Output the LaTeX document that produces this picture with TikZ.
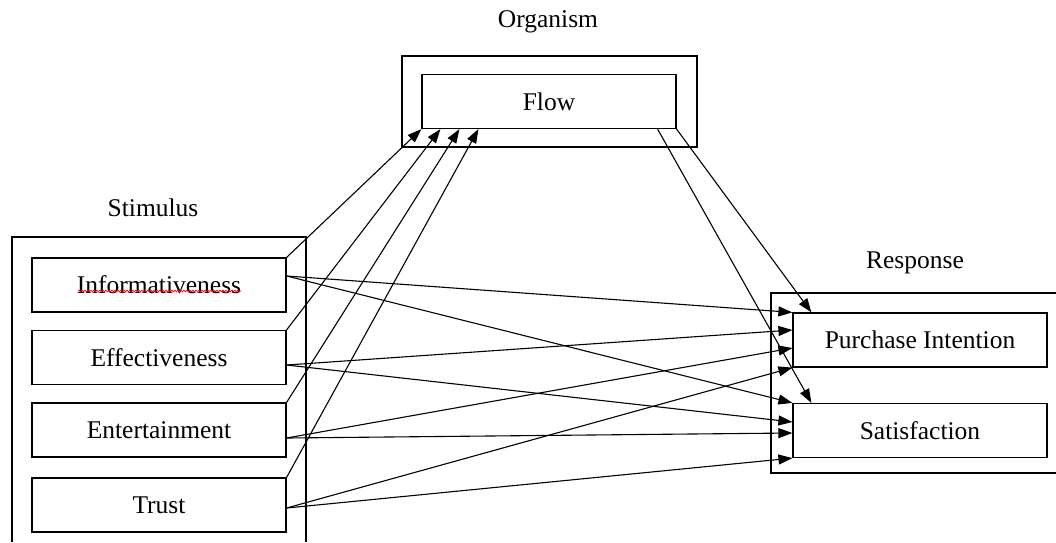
\documentclass[tikz,border=0pt]{standalone}
\usepackage{fontspec}
\setmainfont{Liberation Serif}
\usetikzlibrary{arrows.meta,calc,decorations.pathmorphing}

\begin{document}
\begin{tikzpicture}[x=1pt,y=-1pt,
  line width=1.2pt,
  every node/.style={font=\fontsize{25.5}{30}\selectfont},
  varbox/.style={draw, rectangle, inner sep=0pt, minimum width=254pt, minimum height=54pt},
  title/.style={inner sep=0pt},
  link/.style={-{Triangle[length=14pt,width=10pt]}, line width=1.1pt},
  frame/.style={line width=1.2pt}
]
\useasboundingbox (0,0) rectangle (1056,542);

% group titles
\node[title] (torg)  at (548,22)  {Organism};
\node[title] (tstim) at (153,208) {Stimulus};
\node[title] (tresp) at (915,263) {Response};

% group frames
\draw[frame] (402,56) rectangle (697,147);
\draw[frame] (12,542) -- (12,237) -- (306,237) -- (306,542);
\draw[frame] (1056,293) -- (771,293) -- (771,473) -- (1056,473);

% variables
\node[varbox] (flow)  at (549,101.5) {Flow};
\node[varbox] (info)  at (159,285)   {Informativeness};
\node[varbox] (eff)   at (159,357.5) {Effectiveness};
\node[varbox] (ent)   at (159,430)   {Entertainment};
\node[varbox] (trust) at (159,505)   {Trust};
\node[varbox] (pi)    at (920,340)   {Purchase Intention};
\node[varbox] (sat)   at (920,430.5) {Satisfaction};

% spell-check squiggle
\draw[red, line width=0.7pt, decorate, decoration={snake, amplitude=0.9pt, segment length=3pt}]
  ($(info.center)+(-81,6)$) -- ($(info.center)+(82,6)$);

% stimulus -> flow
\draw[link] (info.north east)  -- (flow.south west);
\draw[link] (eff.north east)   -- ($(flow.south west)+(19,0)$);
\draw[link] (ent.north east)   -- ($(flow.south west)+(38,0)$);
\draw[link] (trust.north east) -- ($(flow.south west)+(57,0)$);

% flow -> response
\draw[link] (flow.south east) -- ($(pi.north west)+(19,0)$);
\draw[link] ($(flow.south east)+(-19,0)$) -- ($(sat.north west)+(19,0)$);

% stimulus -> response
\draw[link] ($(info.east)+(0,-9)$) -- (pi.north west);
\draw[link] ($(info.east)+(0,-9)$) -- (sat.north west);
\draw[link] ($(eff.east)+(0,7.5)$) -- ($(pi.west)+(0,-10)$);
\draw[link] ($(eff.east)+(0,7.5)$) -- ($(sat.west)+(0,-8.5)$);
\draw[link] ($(ent.east)+(0,8)$) -- ($(pi.west)+(0,8)$);
\draw[link] ($(ent.east)+(0,8)$) -- ($(sat.west)+(0,2.5)$);
\draw[link] ($(trust.east)+(0,3)$) -- (pi.south west);
\draw[link] ($(trust.east)+(0,3)$) -- (sat.south west);
\end{tikzpicture}
\end{document}
